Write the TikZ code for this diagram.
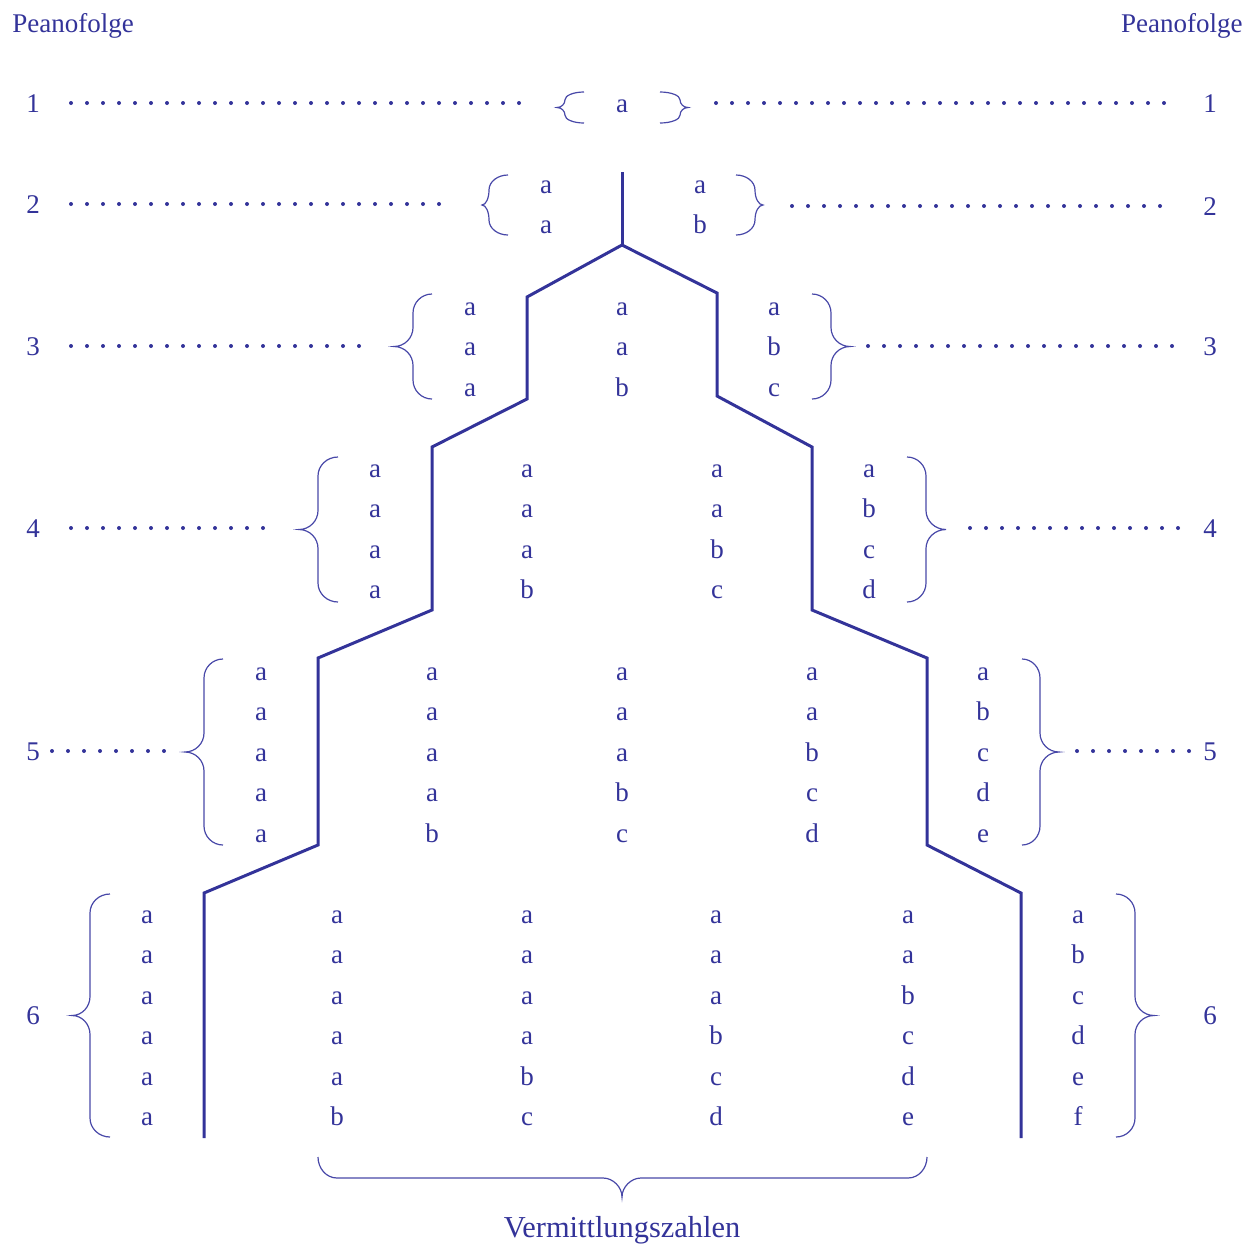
\documentclass[tikz,border=0pt]{standalone}
\usepackage{fontspec}
\setmainfont{Liberation Serif}
\definecolor{pblue}{RGB}{51,51,153}
\definecolor{bblue}{RGB}{72,72,168}
\newcommand\pcol[4]{%
  \foreach \c [count=\k] in {#4} {\node[txt] (#1-\k) at (#2,{#3+2.5+40.4*(\k-1)}) {\c};}}
\newcommand\pbrace[5]{%
  \pgfmathsetmacro\bym{(#4+#5)/2}%
  \pgfmathsetmacro\brr{min(19,(#5-#4)/4)}%
  \pgfmathsetmacro\bya{#4+\brr}\pgfmathsetmacro\byb{\bym-\brr}%
  \pgfmathsetmacro\byc{\bym+\brr}\pgfmathsetmacro\byd{#5-\brr}%
  \pgfmathsetmacro\bxe{#1+0.552*(#2-#1)}%
  \pgfmathsetmacro\bxt{#3-0.552*(#3-#2)}%
  \pgfmathsetmacro\bk{0.552*\brr}%
  \draw[brc] (#1,#4) .. controls (\bxe,#4) and (#2,\bya-\bk) .. (#2,\bya) -- (#2,\byb)
    .. controls (#2,\byb+\bk) and (\bxt,\bym) .. (#3,\bym)
    .. controls (\bxt,\bym) and (#2,\byc-\bk) .. (#2,\byc)
    -- (#2,\byd) .. controls (#2,\byd+\bk) and (\bxe,#5) .. (#1,#5);}
\begin{document}
\begin{tikzpicture}[x=0.5pt,y=-0.5pt,
  txt/.style={anchor=base, inner sep=0pt, text=pblue, font=\fontsize{13.5}{16}\selectfont},
  dotline/.style={pblue, line width=2pt, line cap=round, dash pattern=on 0pt off 8pt},
  stairline/.style={pblue, line width=1.5pt, line join=miter},
  brc/.style={bblue, line width=0.6pt}]
\useasboundingbox (0,0) rectangle (1258,1243);

% titles
\node[txt, anchor=base west] (pl) at (12,32) {Peanofolge};
\node[txt, anchor=base east] (pr) at (1243,32) {Peanofolge};
\node[txt, font=\fontsize{15.2}{18}\selectfont] (vz) at (622,1237) {Vermittlungszahlen};

% row numbers
\foreach \n/\yl/\yr in {1/112/112, 2/213/215, 3/355/355, 4/537/537, 5/760/760, 6/1024/1024} {
  \node[txt] (nl\n) at (33,\yl) {\n};
  \node[txt] (nr\n) at (1210,\yr) {\n};
}

% dotted leaders
\foreach \n/\y/\a/\b in {1/103/71/522, 2/204/71/442, 3/346/71/362, 4/528/71/265, 5/751/52/165} {
  \coordinate (dls\n) at (\a,\y); \coordinate (dle\n) at (\b,\y);
  \draw[dotline] (dls\n) -- (dle\n);
}
\foreach \n/\y/\a/\b in {1/103/716/1168, 2/206/792/1164, 3/346/868/1175, 4/528/970/1183, 5/751/1077/1190} {
  \coordinate (drs\n) at (\a,\y); \coordinate (dre\n) at (\b,\y);
  \draw[dotline] (drs\n) -- (dre\n);
}

% letters
\pcol{r1c1}{622}{110}{a}
\pcol{r2c1}{546}{191}{a,a}
\pcol{r2c2}{700}{191}{a,b}
\pcol{r3c1}{470}{313}{a,a,a}
\pcol{r3c2}{622}{313}{a,a,b}
\pcol{r3c3}{774}{313}{a,b,c}
\pcol{r4c1}{375}{475}{a,a,a,a}
\pcol{r4c2}{527}{475}{a,a,a,b}
\pcol{r4c3}{717}{475}{a,a,b,c}
\pcol{r4c4}{869}{475}{a,b,c,d}
\pcol{r5c1}{261}{678}{a,a,a,a,a}
\pcol{r5c2}{432}{678}{a,a,a,a,b}
\pcol{r5c3}{622}{678}{a,a,a,b,c}
\pcol{r5c4}{812}{678}{a,a,b,c,d}
\pcol{r5c5}{983}{678}{a,b,c,d,e}
\pcol{r6c1}{147}{921}{a,a,a,a,a,a}
\pcol{r6c2}{337}{921}{a,a,a,a,a,b}
\pcol{r6c3}{527}{921}{a,a,a,a,b,c}
\pcol{r6c4}{716}{921}{a,a,a,b,c,d}
\pcol{r6c5}{908}{921}{a,a,b,c,d,e}
\pcol{r6c6}{1078}{921}{a,b,c,d,e,f}

% braces (end x, vertical x, tip x, top y, bottom y)
\pbrace{584}{565}{557}{92}{123}
\pbrace{660}{680}{688}{92}{123}
\pbrace{508}{489}{482}{175}{235}
\pbrace{736}{755}{763}{175}{235}
\pbrace{432}{413}{394}{294}{399}
\pbrace{812}{831}{850}{294}{399}
\pbrace{338}{318}{299}{457}{602}
\pbrace{907}{926}{946}{457}{602}
\pbrace{223}{204}{185}{659}{845}
\pbrace{1022}{1040}{1059}{659}{845}
\pbrace{110}{90}{72}{894}{1137}
\pbrace{1116}{1135}{1154}{894}{1137}

% bottom brace
\draw[brc] (318,1157) .. controls (318,1168) and (326,1178) .. (337,1178) -- (603,1178)
  .. controls (613,1178) and (622,1187) .. (622,1197)
  .. controls (622,1187) and (631,1178) .. (641,1178)
  -- (908,1178) .. controls (919,1178) and (927,1168) .. (927,1157);

% staircase
\draw[stairline] (204,1138) -- (204,893) -- (318,845) -- (318,658) -- (432,610)
  -- (432,447) -- (527,399) -- (527,297) -- (622,245) -- (717,293) -- (717,396)
  -- (812,447) -- (812,610) -- (927,658) -- (927,845) -- (1021,893) -- (1021,1138);
\draw[stairline] (622,245) -- (622,172);
\end{tikzpicture}
\end{document}
